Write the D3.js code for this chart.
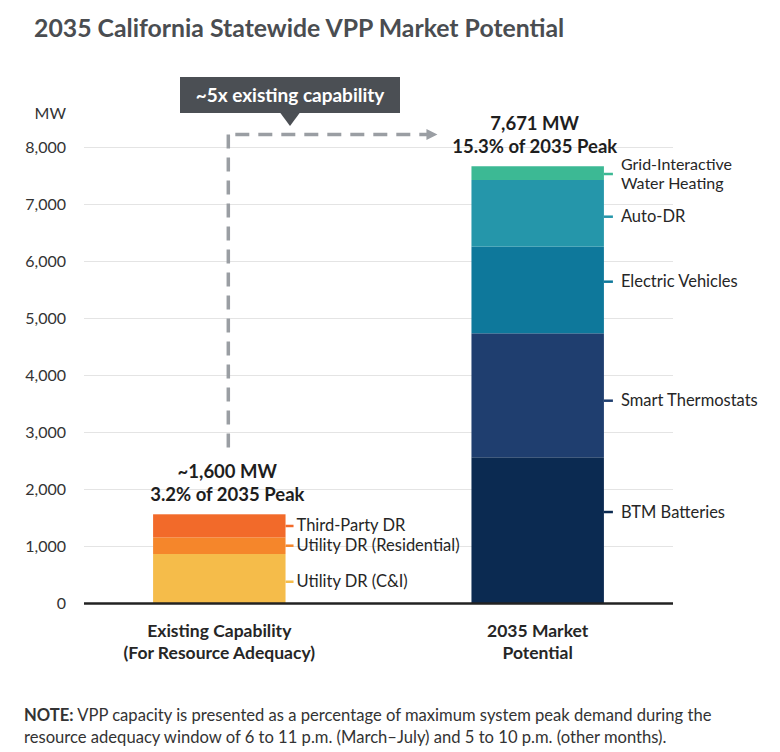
<!DOCTYPE html>
<html>
<head>
<meta charset="utf-8">
<script src="https://cdn.jsdelivr.net/npm/d3@7/dist/d3.min.js"></script>
<style>
  html, body { margin: 0; padding: 0; background: #ffffff; }
  svg { display: block; }
  text { font-family: Lato, "Open Sans", sans-serif; }
</style>
</head>
<body>
<svg id="chart" width="780" height="752"></svg>
<script>
// ---------- DATA ----------
const categories = ["Existing Capability", "2035 Market Potential"];
const categoryLabels = [["Existing Capability", "(For Resource Adequacy)"], ["2035 Market", "Potential"]];

const existingNames = ["Utility DR (C&I)", "Utility DR (Residential)", "Third-Party DR"];
const existingValues = [868, 293, 404];
const existingLabelMW = [382, 1014, 1360];

const potentialNames = ["BTM Batteries", "Smart Thermostats", "Electric Vehicles", "Auto-DR", "Grid-Interactive Water Heating"];
const potentialValues = [2565, 2175, 1520, 1170, 241];
const potentialLabelMW = [1605, 3558, 5646, 6786, 7535];

const totalLabels = [["~1,600 MW", "3.2% of 2035 Peak"], ["7,671 MW", "15.3% of 2035 Peak"]];
const yTicks = [0, 1000, 2000, 3000, 4000, 5000, 6000, 7000, 8000];

const existingColors = ["#f5bc4a", "#f5862b", "#f26a2a"];
const potentialColors = ["#0b2a51", "#1f3e6f", "#0e789b", "#2596aa", "#3cb994"];

// ---------- SETUP ----------
const svg = d3.select("#chart");
const left = 84, right = 673, baseY = 603.5, topY = 147.5;

const y = d3.scaleLinear().domain([0, 8000]).range([baseY, topY]);
const x = d3.scaleBand().domain(categories).range([left, right])
  .paddingInner(0.584).paddingOuter(0.217);

// Title
svg.append("text")
  .attr("x", 34).attr("y", 37)
  .attr("font-size", 24.8).attr("font-weight", 700)
  .attr("fill", "#4a4d51")
  .text("2035 California Statewide VPP Market Potential");

// Gridlines
svg.append("g").selectAll("line").data(yTicks.filter(d => d > 0)).join("line")
  .attr("x1", left).attr("x2", right)
  .attr("y1", d => y(d)).attr("y2", d => y(d))
  .attr("stroke", "#e4e4e4").attr("stroke-width", 1);

// Y axis labels via d3 axis
const yAxis = d3.axisLeft(y).tickValues(yTicks).tickFormat(d3.format(",")).tickSize(0).tickPadding(0);
const gy = svg.append("g").attr("transform", `translate(66,0)`).call(yAxis);
gy.select(".domain").remove();
gy.selectAll("text").attr("font-size", 16).attr("fill", "#333").attr("font-family", "Lato, sans-serif");

svg.append("text").attr("x", 66).attr("y", 119).attr("text-anchor", "end")
  .attr("font-size", 16).attr("fill", "#333").text("MW");

// ---------- BARS ----------
function drawStack(cat, names, values, colors, labelMW, tickLen, textGap) {
  const ends = Array.from(d3.cumsum(values));
  const segs = values.map((v, i) => ({ name: names[i], v0: ends[i] - v, v1: ends[i], color: colors[i], lab: labelMW[i] }));
  const g = svg.append("g");
  const x0 = x(cat), bw = x.bandwidth();
  g.selectAll("rect").data(segs).join("rect")
    .attr("x", x0).attr("width", bw)
    .attr("y", d => y(d.v1)).attr("height", d => y(d.v0) - y(d.v1))
    .attr("fill", d => d.color);
  g.selectAll("line.tk").data(segs).join("line").attr("class", "tk")
    .attr("x1", x0 + bw).attr("x2", x0 + bw + tickLen)
    .attr("y1", d => y(d.lab)).attr("y2", d => y(d.lab))
    .attr("stroke", d => d.color).attr("stroke-width", 2.5);
  segs.forEach(d => {
    const words = d.name === "Grid-Interactive Water Heating" ? ["Grid-Interactive", "Water Heating"] : [d.name];
    const n = words.length;
    const lh = 18.5;
    words.forEach((w, i) => {
      g.append("text")
        .attr("x", x0 + bw + textGap)
        .attr("y", y(d.lab) + 5.5 + (i - (n - 1) / 2) * lh)
        .attr("font-size", n > 1 ? 16 : 16.5).attr("fill", "#262626")
        .text(w);
    });
  });
  return ends[ends.length - 1];
}

const totalExisting = drawStack(categories[0], existingNames, existingValues, existingColors, existingLabelMW, 8, 11);
const totalPotential = drawStack(categories[1], potentialNames, potentialValues, potentialColors, potentialLabelMW, 9, 17);

// Total labels
[totalExisting, totalPotential].forEach((tot, i) => {
  const cx = x(categories[i]) + x.bandwidth() / 2 + (i === 0 ? 8 : -3);
  const yt = y(tot);
  svg.append("text").attr("x", cx).attr("y", yt - 36).attr("text-anchor", "middle")
    .attr("font-size", 18.5).attr("font-weight", 700).attr("fill", "#1e1e1e").text(totalLabels[i][0]);
  svg.append("text").attr("x", cx).attr("y", yt - 13).attr("text-anchor", "middle")
    .attr("font-size", 18.5).attr("font-weight", 700).attr("fill", "#1e1e1e").text(totalLabels[i][1]);
});

// Baseline
svg.append("line").attr("x1", left).attr("x2", right).attr("y1", y(0)).attr("y2", y(0))
  .attr("stroke", "#222").attr("stroke-width", 2.5);

// Category labels
categoryLabels.forEach((lines, i) => {
  const cx = x(categories[i]) + x.bandwidth() / 2;
  lines.forEach((l, j) => {
    svg.append("text").attr("x", cx).attr("y", 637 + j * 22).attr("text-anchor", "middle")
      .attr("font-size", 17.5).attr("font-weight", 700).attr("fill", "#262626").text(l);
  });
});

// ---------- ANNOTATION ----------
const vx = x(categories[0]) + x.bandwidth() / 2 + 9;
const hy = y(8230);
const arrowTip = x(categories[1]) - 34;
svg.append("line").attr("x1", vx).attr("x2", vx).attr("y1", hy).attr("y2", y(totalExisting) - 62)
  .attr("stroke", "#9a9ea3").attr("stroke-width", 3.5).attr("stroke-dasharray", "14,9");
svg.append("line").attr("x1", vx + 7).attr("x2", arrowTip - 10).attr("y1", hy).attr("y2", hy)
  .attr("stroke", "#9a9ea3").attr("stroke-width", 3.5).attr("stroke-dasharray", "14,9");
svg.append("path")
  .attr("d", `M${arrowTip - 11},${hy - 5.5} L${arrowTip},${hy} L${arrowTip - 11},${hy + 5.5} Z`)
  .attr("fill", "#9a9ea3");

// Callout box
const bx0 = 180, bx1 = 400, by0 = 77, by1 = 113;
const bcx = (bx0 + bx1) / 2;
svg.append("rect").attr("x", bx0).attr("y", by0).attr("width", bx1 - bx0).attr("height", by1 - by0)
  .attr("fill", "#4b4f54");
svg.append("path").attr("d", `M${bcx - 10},${by1 - 0.5} L${bcx + 10},${by1 - 0.5} L${bcx},${by1 + 13} Z`)
  .attr("fill", "#4b4f54");
svg.append("text").attr("x", bcx).attr("y", 101.5).attr("text-anchor", "middle")
  .attr("font-size", 19).attr("font-weight", 700).attr("fill", "#ffffff").text("~5x existing capability");

// ---------- NOTE ----------
const note = svg.append("text").attr("x", 24).attr("y", 721).attr("font-size", 16.6).attr("fill", "#333");
note.append("tspan").attr("font-weight", 700).text("NOTE:");
note.append("tspan").text(" VPP capacity is presented as a percentage of maximum system peak demand during the");
svg.append("text").attr("x", 24).attr("y", 743).attr("font-size", 16.6).attr("fill", "#333")
  .text("resource adequacy window of 6 to 11 p.m. (March\u2013July) and 5 to 10 p.m. (other months).");
</script>
</body>
</html>
